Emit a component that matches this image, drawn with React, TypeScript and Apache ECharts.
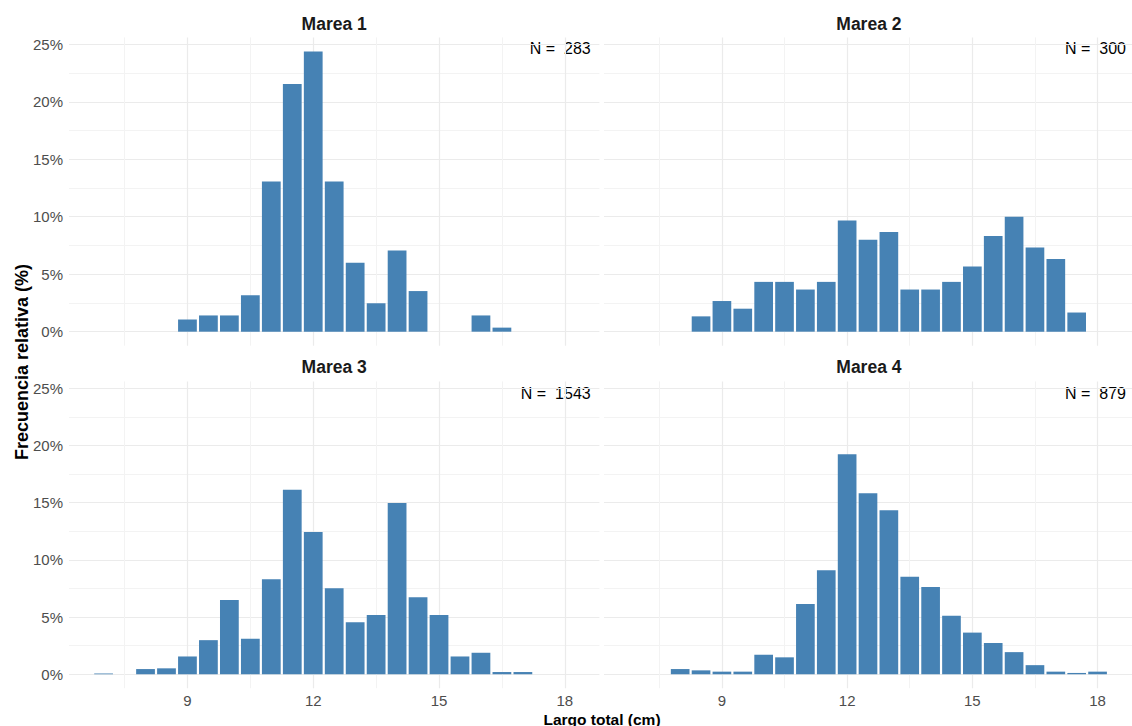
import { useEffect, useRef } from "react";
import * as echarts from "echarts";

// ---- Data (bin midpoints in cm, relative frequency in %) ----
const panelTitles = ["Marea 1", "Marea 2", "Marea 3", "Marea 4"];
const panelN = ["283", "300", "1543", "879"];

const marea1Bins = [9, 9.5, 10, 10.5, 11, 11.5, 12, 12.5, 13, 13.5, 14, 14.5, 16, 16.5];
const marea1Pct = [1.06, 1.413, 1.413, 3.18, 13.074, 21.555, 24.382, 13.074, 6.007, 2.473, 7.067, 3.534, 1.413, 0.353];

const marea2Bins = [8.5, 9, 9.5, 10, 10.5, 11, 11.5, 12, 12.5, 13, 13.5, 14, 14.5, 15, 15.5, 16, 16.5, 17, 17.5];
const marea2Pct = [1.333, 2.667, 2.0, 4.333, 4.333, 3.667, 4.333, 9.667, 8.0, 8.667, 3.667, 3.667, 4.333, 5.667, 8.333, 10.0, 7.333, 6.333, 1.667];

const marea3Bins = [7, 8, 8.5, 9, 9.5, 10, 10.5, 11, 11.5, 12, 12.5, 13, 13.5, 14, 14.5, 15, 15.5, 16, 16.5, 17];
const marea3Pct = [0.065, 0.454, 0.518, 1.555, 2.981, 6.481, 3.111, 8.296, 16.137, 12.443, 7.518, 4.537, 5.185, 14.971, 6.74, 5.185, 1.555, 1.879, 0.194, 0.194];

const marea4Bins = [8, 8.5, 9, 9.5, 10, 10.5, 11, 11.5, 12, 12.5, 13, 13.5, 14, 14.5, 15, 15.5, 16, 16.5, 17, 17.5, 18];
const marea4Pct = [0.455, 0.341, 0.228, 0.228, 1.706, 1.479, 6.143, 9.101, 19.226, 15.813, 14.334, 8.532, 7.622, 5.119, 3.641, 2.73, 1.934, 0.796, 0.228, 0.114, 0.228];

const xTicks = [9, 12, 15, 18];
const xMinorTicks = [7.5, 10.5, 13.5, 16.5];
const yTicks = [0, 5, 10, 15, 20, 25];
const yMinorTicks = [2.5, 7.5, 12.5, 17.5, 22.5];

const binWidth = 0.5;
const xMin = 6.175;
const xMax = 18.825;
const yMin = -1.219;
const yMax = 25.601;

const FONT = '"Liberation Sans", Arial, Helvetica, sans-serif';

const panels = [
  { bins: marea1Bins, pct: marea1Pct },
  { bins: marea2Bins, pct: marea2Pct },
  { bins: marea3Bins, pct: marea3Pct },
  { bins: marea4Bins, pct: marea4Pct },
];

const grids = [
  { left: 69, top: 37.4, width: 530.4, height: 308.3 },
  { left: 604, top: 37.4, width: 529.8, height: 308.3 },
  { left: 69, top: 381.4, width: 530.4, height: 306.8 },
  { left: 604, top: 381.4, width: 529.8, height: 306.8 },
];

const BAR_GAP = 2.2;

export default function App() {
  const ref = useRef<HTMLDivElement>(null);

  useEffect(() => {
    if (!ref.current) return;
    const chart = echarts.init(ref.current, null, { renderer: "svg" });

    const xAxes: any[] = [];
    const yAxes: any[] = [];
    const series: any[] = [];
    const graphics: any[] = [];

    panels.forEach((p, i) => {
      const isBottom = i >= 2;
      const isLeft = i % 2 === 0;
      xAxes.push({
        type: "value",
        gridIndex: i,
        position: "bottom",
        min: xMin,
        max: xMax,
        axisLine: { show: false },
        axisTick: { show: false, customValues: xTicks },
        axisLabel: {
          show: isBottom,
          customValues: xTicks,
          color: "#4D4D4D",
          fontSize: 15,
          fontFamily: FONT,
          margin: 5,
        },
        splitLine: { show: true, lineStyle: { color: "#EBEBEB", width: 1.2 } },
      });
      xAxes.push({
        type: "value",
        gridIndex: i,
        position: "top",
        min: xMin,
        max: xMax,
        axisLine: { show: false },
        axisTick: { show: false, customValues: xMinorTicks },
        axisLabel: { show: false, customValues: xMinorTicks },
        splitLine: { show: true, lineStyle: { color: "#F3F3F3", width: 1 } },
      });
      yAxes.push({
        type: "value",
        gridIndex: i,
        position: "left",
        min: yMin,
        max: yMax,
        axisLine: { show: false },
        axisTick: { show: false, customValues: yTicks },
        axisLabel: {
          show: isLeft,
          customValues: yTicks,
          formatter: "{value}%",
          color: "#4D4D4D",
          fontSize: 15,
          fontFamily: FONT,
          margin: 6,
        },
        splitLine: { show: true, lineStyle: { color: "#EBEBEB", width: 1.2 } },
      });
      yAxes.push({
        type: "value",
        gridIndex: i,
        position: "right",
        min: yMin,
        max: yMax,
        axisLine: { show: false },
        axisTick: { show: false, customValues: yMinorTicks },
        axisLabel: { show: false, customValues: yMinorTicks },
        splitLine: { show: true, lineStyle: { color: "#F3F3F3", width: 1 } },
      });

      series.push({
        type: "custom",
        xAxisIndex: 2 * i,
        yAxisIndex: 2 * i,
        data: p.bins.map((b, k) => [b, p.pct[k]]),
        encode: { x: 0, y: 1 },
        renderItem: (params: any, api: any) => {
          const x = api.value(0);
          const y = api.value(1);
          const p1 = api.coord([x - binWidth / 2, y]);
          const p2 = api.coord([x + binWidth / 2, 0]);
          return {
            type: "rect",
            shape: {
              x: p1[0] + BAR_GAP / 2,
              y: p1[1],
              width: p2[0] - p1[0] - BAR_GAP,
              height: p2[1] - p1[1],
            },
            style: { fill: "#4682B4" },
          };
        },
      });

      const g = grids[i];
      graphics.push({
        type: "text",
        x: g.left + g.width / 2,
        y: isBottom ? 367 : 23.7,
        style: {
          text: panelTitles[i],
          font: `bold 17.5px ${FONT}`,
          fill: "#1A1A1A",
          align: "center",
          verticalAlign: "middle",
        },
      });
      graphics.push({
        type: "text",
        x: isLeft ? 590.7 : 1126,
        y: isBottom ? 393 : 48,
        style: {
          text: "N =  " + panelN[i],
          font: `16px ${FONT}`,
          fill: "#000000",
          align: "right",
          verticalAlign: "middle",
        },
      });
    });

    graphics.push({
      type: "text",
      x: 602,
      y: 719,
      style: {
        text: "Largo total (cm)",
        font: `bold 15.5px ${FONT}`,
        fill: "#000000",
        align: "center",
        verticalAlign: "middle",
      },
    });
    graphics.push({
      type: "text",
      x: 22,
      y: 362,
      rotation: Math.PI / 2,
      style: {
        text: "Frecuencia relativa (%)",
        font: `bold 18px ${FONT}`,
        fill: "#000000",
        align: "center",
        verticalAlign: "middle",
      },
    });

    chart.setOption({
      animation: false,
      backgroundColor: "#FFFFFF",
      grid: grids.map((g) => ({ ...g, containLabel: false })),
      xAxis: xAxes,
      yAxis: yAxes,
      series,
      graphic: graphics,
    });

    return () => chart.dispose();
  }, []);

  return (
    <div
      ref={ref}
      style={{ position: "absolute", left: 0, top: 0, width: 1132, height: 726 }}
    />
  );
}
